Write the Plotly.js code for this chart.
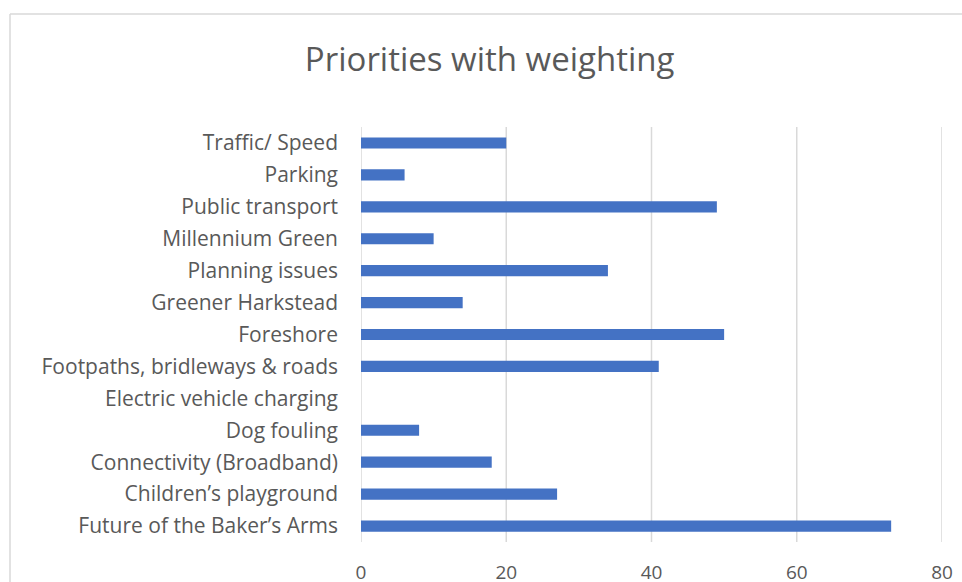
<!DOCTYPE html>
<html>
<head>
<meta charset="utf-8">
<script src="https://cdn.plot.ly/plotly-3.0.1.min.js"></script>
<style>html,body{margin:0;padding:0;background:#fff;}#chart{width:962px;height:582px;}</style>
</head>
<body>
<div id="chart"></div>
<script>
const categories = [
  "Future of the Baker\u2019s Arms",
  "Children\u2019s playground",
  "Connectivity (Broadband)",
  "Dog fouling",
  "Electric vehicle charging",
  "Footpaths, bridleways & roads",
  "Foreshore",
  "Greener Harkstead",
  "Planning issues",
  "Millennium Green",
  "Public transport",
  "Parking",
  "Traffic/ Speed"
];
const values = [73, 27, 18, 8, 0, 41, 50, 14, 34, 10, 49, 6, 20];
const xTicks = [0, 20, 40, 60, 80];

const W = 962, H = 582;
const m = {l: 361, r: 20, t: 127, b: 40};
const pw = W - m.l - m.r, ph = H - m.t - m.b;
const px = x => (x - m.l) / pw;
const py = y => 1 - (y - m.t) / ph;

const trace = {
  type: 'bar',
  orientation: 'h',
  x: values,
  y: categories,
  marker: {color: '#4472c4'},
  hoverinfo: 'x+y'
};

const gridShapes = xTicks.map(v => ({
  type: 'line', xref: 'x', yref: 'paper', x0: v, x1: v, y0: 0, y1: 1,
  line: {color: '#d9d9d9', width: 1.5}, layer: 'below'
}));

const layout = {
  width: W, height: H,
  margin: m,
  paper_bgcolor: '#ffffff',
  plot_bgcolor: '#ffffff',
  font: {family: '"Open Sans", Lato, sans-serif', color: '#595959', size: 19},
  title: {text: 'Priorities with weighting', font: {size: 33, color: '#595959'}, x: 0.509, xanchor: 'center', y: 0.897, yanchor: 'middle'},
  bargap: 0.65,
  showlegend: false,
  xaxis: {
    range: [0, 80],
    tickvals: xTicks,
    ticktext: xTicks.map(String),
    tickfont: {size: 19},
    showgrid: false,
    zeroline: false,
    showline: false,
    ticks: '',
    ticklabelstandoff: 17,
    fixedrange: true
  },
  yaxis: {
    type: 'category',
    categoryorder: 'array',
    categoryarray: categories,
    tickfont: {size: 21},
    showgrid: false,
    zeroline: false,
    showline: false,
    ticks: '',
    ticklabelstandoff: 22,
    fixedrange: true
  },
  shapes: [
    {type: 'line', xref: 'paper', yref: 'paper', x0: px(10), x1: px(10), y0: py(14), y1: py(600), line: {color: '#d9d9d9', width: 1.5}},
    {type: 'line', xref: 'paper', yref: 'paper', x0: px(10), x1: px(980), y0: py(14), y1: py(14), line: {color: '#d9d9d9', width: 1.5}}
  ].concat(gridShapes)
};

Plotly.newPlot('chart', [trace], layout, {displayModeBar: false, staticPlot: true});
</script>
</body>
</html>
